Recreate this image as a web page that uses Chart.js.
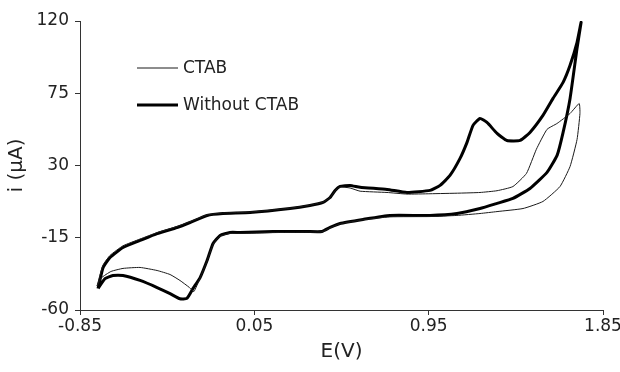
<!DOCTYPE html>
<html>
<head>
<meta charset="utf-8">
<script src="https://cdn.jsdelivr.net/npm/chart.js@4/dist/chart.umd.min.js"></script>
<style>
  html, body { margin: 0; padding: 0; background: #fff; }
  #wrap { width: 620px; height: 372px; }
</style>
</head>
<body>
<div id="wrap"><canvas id="cv"></canvas></div>
<script>
// E (V) and i (uA), one sweep per curve
var ctabE = [-0.762, -0.731, -0.695, -0.628, -0.540, -0.452, -0.349, -0.282, -0.194, -0.112, 0.028, 0.234,
    0.337, 0.405, 0.441, 0.467, 0.492, 0.544, 0.596, 0.735, 0.838, 0.957, 1.112, 1.215, 1.303, 1.385, 1.455,
    1.506, 1.561, 1.613, 1.680, 1.727,
    1.731, 1.716, 1.680, 1.628, 1.540, 1.437, 1.303, 1.215, 1.096, 0.957, 0.750, 0.611, 0.492, 0.441, 0.399,
    0.322, 0.146, -0.024, -0.076, -0.127, -0.163, -0.194, -0.230, -0.262, -0.285, -0.334, -0.385, -0.452,
    -0.540, -0.628, -0.690, -0.740, -0.762];
var ctabI = [-45.0, -32.0, -26.0, -20.0, -15.8, -11.8, -8.0, -5.0, -0.8, 0.4, 1.0, 3.4,
    5.3, 7.2, 10.0, 14.3, 16.6, 16.0, 14.0, 13.2, 12.2, 12.4, 12.8, 13.2, 14.3, 16.9, 25.1,
    40.1, 52.5, 56.2, 62.4, 68.6,
    62.4, 46.2, 29.4, 16.9, 7.6, 3.2, 1.3, 0.1, -1.1, -1.8, -2.0, -3.8, -6.3, -8.8, -11.3,
    -11.5, -11.8, -12.3, -12.3, -14.0, -19.0, -29.5, -40.0, -48.5, -46.0, -41.6, -37.9, -35.4,
    -33.5, -34.1, -36.0, -40.0, -45.0];

var semE = [-0.757, -0.731, -0.695, -0.628, -0.540, -0.452, -0.349, -0.282, -0.194, -0.112, 0.028, 0.234,
    0.337, 0.405, 0.441, 0.467, 0.492, 0.544, 0.596, 0.735, 0.838, 0.957, 1.009, 1.060, 1.112, 1.148,
    1.179, 1.215, 1.251, 1.303, 1.354, 1.422, 1.473, 1.540, 1.592, 1.644, 1.680, 1.716, 1.737,
    1.716, 1.680, 1.644, 1.613, 1.561, 1.473, 1.385, 1.303, 1.215, 1.096, 0.957, 0.750, 0.611, 0.492,
    0.441, 0.399, 0.322, 0.146, -0.024, -0.076, -0.127, -0.163, -0.194, -0.230, -0.267, -0.298, -0.334,
    -0.385, -0.452, -0.540, -0.628, -0.680, -0.721, -0.757];
var semI = [-46.6, -33.6, -27.3, -21.1, -16.7, -12.4, -8.6, -5.5, -1.1, 0.1, 0.7, 3.2,
    5.1, 7.0, 10.1, 14.5, 17.0, 17.6, 16.4, 15.1, 13.2, 14.5, 17.6, 23.8, 34.4, 44.4,
    55.0, 59.3, 56.8, 50.0, 45.6, 45.6, 50.6, 61.2, 71.8, 81.8, 92.4, 106.7, 119.2,
    103.0, 71.8, 50.6, 36.3, 25.7, 15.7, 9.5, 6.4, 3.2, 0.1, -1.1, -1.1, -3.6, -6.1,
    -8.6, -11.1, -11.1, -11.1, -11.7, -11.7, -13.6, -18.6, -29.2, -39.8, -46.7, -52.8, -53.0,
    -49.8, -46.0, -41.6, -38.5, -38.5, -40.4, -46.6];

var xTicks = [-0.85, 0.05, 0.95, 1.85];
var yTicks = [-60, -15, 30, 75, 120];
var serieNomes = ['CTAB', 'Without CTAB'];

var fonte = 'DejaVu Sans';
var corTexto = '#222';
var corEixo = '#333';

var pontos = function (es, is) {
    return es.map(function (e, k) { return { x: e, y: is[k] }; });
};

// legend sits inside the plot, lines stacked at top-left
var legendaInterna = {
    id: 'legendaInterna',
    afterDraw: function (chart) {
        var ctx = chart.ctx;
        var area = chart.chartArea;
        var x0 = area.left + 57;
        var x1 = area.left + 98;
        var linhas = [area.top + 47, area.top + 84];
        ctx.save();
        ctx.font = '17px "' + fonte + '"';
        ctx.fillStyle = corTexto;
        ctx.textBaseline = 'middle';
        chart.data.datasets.forEach(function (ds, k) {
            var y = linhas[k];
            ctx.beginPath();
            ctx.strokeStyle = ds.borderColor;
            ctx.lineWidth = ds.borderWidth;
            ctx.moveTo(x0, y);
            ctx.lineTo(x1, y);
            ctx.stroke();
            ctx.fillText(ds.label, x1 + 5, y + 1);
        });
        ctx.restore();
    }
};

var eixo = function (minimo, maximo, valores, titulo) {
    return {
        type: 'linear',
        min: minimo,
        max: maximo,
        afterBuildTicks: function (scale) {
            scale.ticks = valores.map(function (v) { return { value: v }; });
        },
        ticks: {
            color: corTexto,
            font: { family: fonte, size: 17 },
            callback: function (v) { return String(v); }
        },
        grid: {
            display: true,
            drawOnChartArea: false,
            drawTicks: true,
            tickLength: 5,
            tickColor: corEixo,
            color: corEixo
        },
        border: { display: true, color: corEixo, width: 1 },
        title: {
            display: true,
            text: titulo,
            color: corTexto,
            font: { family: fonte, size: 20 }
        }
    };
};

var escalaX = eixo(-0.85, 1.85, xTicks, 'E(V)');
escalaX.ticks.padding = 1;
escalaX.title.padding = { top: 0, bottom: 8 };
escalaX.afterFit = function (scale) {
    scale.height = 62;
    // the last label is allowed to run off the canvas edge, as in the original
    scale.paddingRight = 0;
    scale.paddingLeft = 0;
};

var escalaY = eixo(-60, 120, yTicks, 'i (\u03bcA)');
escalaY.ticks.padding = 6;
escalaY.title.padding = { top: 5, bottom: 0 };
escalaY.afterFit = function (scale) { scale.width = 80; };

new Chart(document.getElementById('cv'), {
    type: 'scatter',
    data: {
        datasets: [
            {
                label: serieNomes[0],
                data: pontos(ctabE, ctabI),
                showLine: true,
                borderColor: '#1a1a1a',
                borderWidth: 1,
                pointRadius: 0,
                tension: 0.15
            },
            {
                label: serieNomes[1],
                data: pontos(semE, semI),
                showLine: true,
                borderColor: '#000',
                borderWidth: 3,
                pointRadius: 0,
                tension: 0.15
            }
        ]
    },
    options: {
        responsive: true,
        maintainAspectRatio: false,
        animation: false,
        devicePixelRatio: 1,
        layout: { padding: { top: 21, right: 17, left: 0, bottom: 0 } },
        plugins: {
            legend: { display: false },
            tooltip: { enabled: false }
        },
        scales: { x: escalaX, y: escalaY }
    },
    plugins: [legendaInterna]
});
</script>
</body>
</html>
